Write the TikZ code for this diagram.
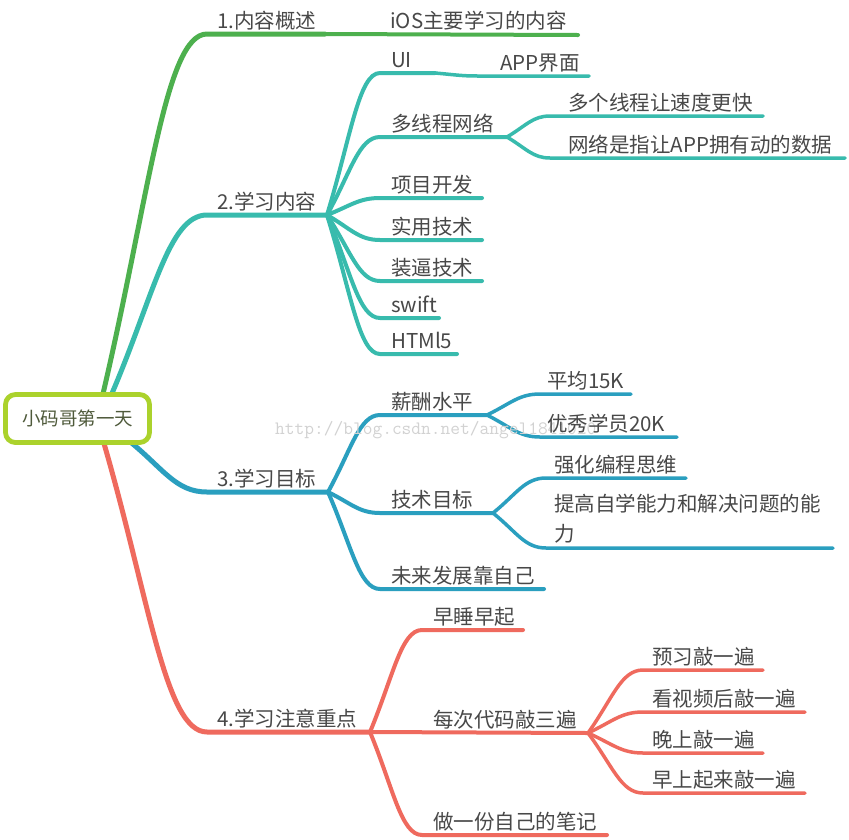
\documentclass[tikz,border=0pt]{standalone}
\usepackage{fontspec}
\setmainfont{Noto Sans CJK SC}
\usetikzlibrary{calc}
\definecolor{cgreen}{HTML}{4DB04E}
\definecolor{cteal}{HTML}{38BBAD}
\definecolor{cblue}{HTML}{2A9FBF}
\definecolor{cred}{HTML}{EF6A5E}
\definecolor{croot}{HTML}{ABD22C}
\definecolor{roottext}{HTML}{4F5A3B}
\definecolor{txt}{HTML}{484848}
\definecolor{wmark}{HTML}{D2D2D2}
\tikzset{
  lbl/.style={anchor=base west, inner sep=0pt, font=\fontsize{20.5}{24}\selectfont, text=txt},
  mainline/.style={line width=5pt, line cap=round},
  subline/.style={line width=4pt, line cap=round},
  leafline/.style={line width=3.5pt, line cap=round},
}
% curve from #2 to #3 (ending horizontal), then straight to #4
\newcommand\mmbranch[4]{\draw[#1] let \p1=(#2), \p2=(#3) in (\p1) .. controls ({\x1+0.45*(\x2-\x1)},{\y1+0.55*(\y2-\y1)}) and ({\x1+0.6*(\x2-\x1)},{\y2}) .. (\p2) -- (#4);}
\begin{document}
\begin{tikzpicture}[x=1pt,y=-1pt]
\useasboundingbox[fill=white] (0,0) rectangle (849,839);
% ---------- coordinates ----------
\coordinate (r1) at (102,398);
\coordinate (r2) at (110,398);
\coordinate (r3) at (128,440);
\coordinate (r4) at (103,440);
% branch 1
\coordinate (c1) at (207,34);  \coordinate (j1) at (325,34);
\coordinate (e11) at (578,35);
% branch 2
\coordinate (c2) at (207,215); \coordinate (j2) at (327,215);
\coordinate (c21) at (380,73);  \coordinate (j21) at (435,73);
\coordinate (c211) at (478,76); \coordinate (e211) at (589,76);
\coordinate (c22) at (380,137); \coordinate (j22) at (507,137);
\coordinate (c221) at (550,116); \coordinate (e221) at (763,116);
\coordinate (c222) at (550,158); \coordinate (e222) at (845,158);
\coordinate (c23) at (380,198); \coordinate (e23) at (482,198);
\coordinate (c24) at (380,240); \coordinate (e24) at (482,240);
\coordinate (c25) at (380,281); \coordinate (e25) at (482,281);
\coordinate (c26) at (380,318); \coordinate (e26) at (439,318);
\coordinate (c27) at (380,354); \coordinate (e27) at (457,354);
% branch 3
\coordinate (c3) at (207,492); \coordinate (j3) at (328,492);
\coordinate (c31) at (380,415); \coordinate (j31) at (487,415);
\coordinate (c311) at (540,394); \coordinate (e311) at (631,394);
\coordinate (c312) at (540,437); \coordinate (e312) at (677,437);
\coordinate (c32) at (380,513); \coordinate (j32) at (493,513);
\coordinate (c321) at (546,478); \coordinate (e321) at (686,478);
\coordinate (c322) at (546,548); \coordinate (e322) at (833,548);
\coordinate (c33) at (380,589); \coordinate (e33) at (544,589);
% branch 4
\coordinate (c4) at (207,732); \coordinate (j4) at (370,732);
\coordinate (c41) at (422,630); \coordinate (e41) at (523,630);
\coordinate (j42) at (588,733);
\coordinate (c421) at (643,670); \coordinate (e421) at (763,670);
\coordinate (c422) at (643,712); \coordinate (e422) at (805,712);
\coordinate (c423) at (643,753); \coordinate (e423) at (763,753);
\coordinate (c424) at (643,793); \coordinate (e424) at (805,793);
\coordinate (c43) at (422,835); \coordinate (e43) at (607,835);

% ---------- connectors ----------
% branch 1
\mmbranch{mainline,cgreen}{r1}{c1}{j1}
\draw[subline,cgreen] (j1) -- (e11);
% branch 2
\mmbranch{mainline,cteal}{r2}{c2}{j2}
\mmbranch{subline,cteal}{j2}{c21}{j21}
\mmbranch{leafline,cteal}{j21}{c211}{e211}
\mmbranch{subline,cteal}{j2}{c22}{j22}
\mmbranch{leafline,cteal}{j22}{c221}{e221}
\mmbranch{leafline,cteal}{j22}{c222}{e222}
\mmbranch{subline,cteal}{j2}{c23}{e23}
\mmbranch{subline,cteal}{j2}{c24}{e24}
\mmbranch{subline,cteal}{j2}{c25}{e25}
\mmbranch{subline,cteal}{j2}{c26}{e26}
\mmbranch{subline,cteal}{j2}{c27}{e27}
% branch 3
\mmbranch{mainline,cblue}{r3}{c3}{j3}
\mmbranch{subline,cblue}{j3}{c31}{j31}
\mmbranch{leafline,cblue}{j31}{c311}{e311}
\mmbranch{leafline,cblue}{j31}{c312}{e312}
\mmbranch{subline,cblue}{j3}{c32}{j32}
\mmbranch{leafline,cblue}{j32}{c321}{e321}
\mmbranch{leafline,cblue}{j32}{c322}{e322}
\mmbranch{subline,cblue}{j3}{c33}{e33}
% branch 4
\mmbranch{mainline,cred}{r4}{c4}{j4}
\mmbranch{subline,cred}{j4}{c41}{e41}
\draw[subline,cred] (j4) -- (j42);
\mmbranch{leafline,cred}{j42}{c421}{e421}
\mmbranch{leafline,cred}{j42}{c422}{e422}
\mmbranch{leafline,cred}{j42}{c423}{e423}
\mmbranch{leafline,cred}{j42}{c424}{e424}
\mmbranch{subline,cred}{j4}{c43}{e43}

% ---------- root ----------
\node[draw=croot, line width=4.8pt, rounded corners=10pt, fill=white,
      minimum width=144pt, minimum height=48pt, inner sep=0pt,
      font=\fontsize{18.5}{22}\selectfont, text=roottext] (root) at (77.5,418.5) {小码哥第一天};

% ---------- watermark ----------
\node[anchor=west, inner sep=0pt, font=\ttfamily\fontsize{18.9}{20}\selectfont, text=wmark] (wm) at (275,430) {http://blog.csdn.net/angel1841020};

% ---------- labels ----------
\node[lbl] (t1) at (217,28) {1.内容概述};
\node[lbl] (t11) at (390,28) {iOS主要学习的内容};
\node[lbl] (t2) at (217,209) {2.学习内容};
\node[lbl] (t21) at (391,67) {UI};
\node[lbl] (t211) at (500,70) {APP界面};
\node[lbl] (t22) at (391,131) {多线程网络};
\node[lbl] (t221) at (568,110) {多个线程让速度更快};
\node[lbl] (t222) at (568,152) {网络是指让APP拥有动的数据};
\node[lbl] (t23) at (391,192) {项目开发};
\node[lbl] (t24) at (391,234) {实用技术};
\node[lbl] (t25) at (391,275) {装逼技术};
\node[lbl] (t26) at (391,312) {swift};
\node[lbl] (t27) at (391,348) {HTMl5};
\node[lbl] (t3) at (217,486) {3.学习目标};
\node[lbl] (t31) at (391,409) {薪酬水平};
\node[lbl] (t311) at (547,388) {平均15K};
\node[lbl] (t312) at (547,431) {优秀学员20K};
\node[lbl] (t32) at (391,507) {技术目标};
\node[lbl] (t321) at (554,472) {强化编程思维};
\node[lbl, anchor=south west, align=left, text depth=0pt, font=\fontsize{20.5}{30}\selectfont] (t322) at (554,542) {提高自学能力和解决问题的能\\力};
\node[lbl] (t33) at (391,583) {未来发展靠自己};
\node[lbl] (t4) at (217,726) {4.学习注意重点};
\node[lbl] (t41) at (433,624) {早睡早起};
\node[lbl] (t42) at (433,727) {每次代码敲三遍};
\node[lbl] (t421) at (652,664) {预习敲一遍};
\node[lbl] (t422) at (652,706) {看视频后敲一遍};
\node[lbl] (t423) at (652,747) {晚上敲一遍};
\node[lbl] (t424) at (652,787) {早上起来敲一遍};
\node[lbl] (t43) at (433,829) {做一份自己的笔记};
\end{tikzpicture}
\end{document}
